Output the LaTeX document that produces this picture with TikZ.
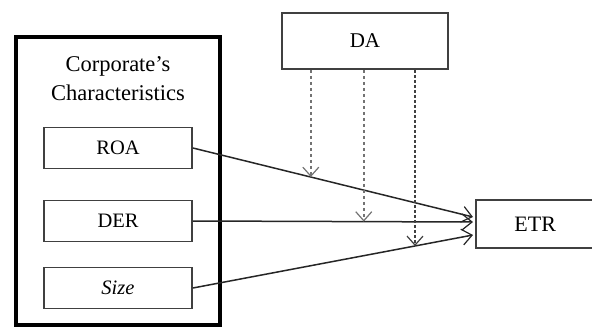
\documentclass[tikz,border=0pt]{standalone}
\usepackage{fontspec}
\setmainfont{Liberation Serif}
\usetikzlibrary{arrows.meta,calc}
\begin{document}
\begin{tikzpicture}[x=1pt,y=-1pt,
  varbox/.style={draw=black!75,line width=1.8pt,minimum width=148pt,minimum height=41pt,inner sep=0pt,font=\fontsize{20.5}{24}\selectfont},
  solidarrow/.style={draw=black!85,line width=1.5pt,-{Straight Barb[length=10pt,width=16pt,line width=1.2pt]}},
  dasharrow/.style={draw=black!55,line width=1.8pt,dash pattern=on 3.5pt off 2.5pt,-{Straight Barb[length=9pt,width=16pt,line width=1.2pt]}}]
\useasboundingbox (0,0) rectangle (592,327);
% outer frame
\draw[line width=3.2pt] (16,37) rectangle (220,325);
\node[font=\fontsize{22.5}{29}\selectfont,align=center] (title) at (118,79) {Corporate's\\Characteristics};
\node[varbox] (roa) at (118,148) {ROA};
\node[varbox] (der) at (118,221) {DER};
\node[varbox] (size) at (118,288) {\textit{Size}};
\node[varbox,minimum width=166pt,minimum height=56pt,font=\fontsize{21}{24}\selectfont] (da) at (365,41) {DA};
\node[minimum width=130pt,minimum height=48pt,inner sep=0pt,font=\fontsize{22}{24}\selectfont,anchor=west] (etr) at (476,224) {\hspace*{-12pt}ETR};
\draw[draw=black!75,line width=1.8pt] (600,200) -- (476,200) -- (476,248) -- (600,248);
% targets on ETR
\coordinate (t1) at (473,217);
\coordinate (t2) at (473,222);
\coordinate (t3) at (473,235);
\draw[solidarrow] (roa.east) -- (t1);
\draw[solidarrow] (der.east) -- (t2);
\draw[solidarrow] (size.east) -- (t3);
% moderator points
\coordinate (m1) at ($(roa.east)!0.421!(t1)$);
\coordinate (m2) at ($(der.east)!0.61!(t2)$);
\coordinate (m3) at ($(size.east)!0.793!(t3)$);
\draw[dasharrow] (da.south -| m1) -- (m1);
\draw[dasharrow] (da.south -| m2) -- (m2);
\draw[dasharrow,draw=black!75,dash pattern=on 3pt off 2pt,line width=1.3pt] (da.south -| m3) -- (m3);
\end{tikzpicture}
\end{document}
